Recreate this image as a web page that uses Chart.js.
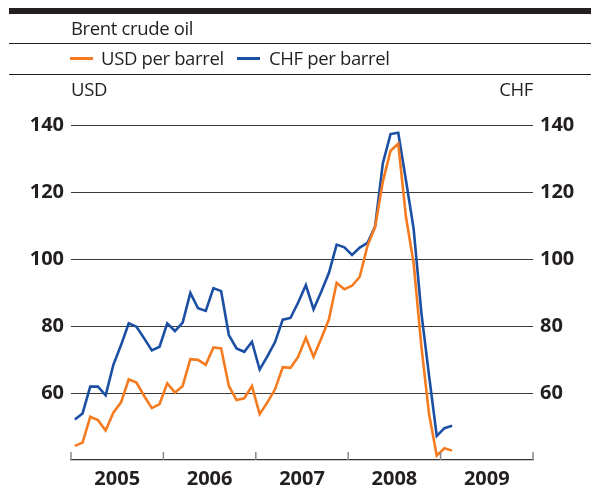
<!DOCTYPE html>
<html>
<head>
<meta charset="utf-8">
<script src="https://cdn.jsdelivr.net/npm/chart.js@4"></script>
<style>
html,body{margin:0;padding:0;background:#fff;}
#wrap{position:relative;width:591px;height:486px;overflow:hidden;font-family:"Open Sans",sans-serif;color:#231f20;}
#c{position:absolute;left:0;top:0;}
.t{position:absolute;white-space:nowrap;font-size:18.5px;line-height:1;letter-spacing:-0.35px;}
.bar{position:absolute;left:9px;right:0;top:8px;height:6px;background:#231f20;}
.rule{position:absolute;left:9px;right:0;height:1px;background:#231f20;}
.sw{position:absolute;height:3px;width:23px;top:57px;}
</style>
</head>
<body>
<div id="wrap">
  <canvas id="c" width="591" height="486"></canvas>
  <div class="bar"></div>
  <div class="t" style="left:71px;top:18.5px;">Brent crude oil</div>
  <div class="rule" style="top:43px;"></div>
  <div class="sw" style="left:70px;background:#f47b20;"></div>
  <div class="t" style="left:101px;top:48.5px;">USD per barrel</div>
  <div class="sw" style="left:237px;background:#1b4fa3;"></div>
  <div class="t" style="left:269px;top:48.5px;">CHF per barrel</div>
  <div class="rule" style="top:74px;"></div>
  <div class="t" style="left:71px;top:80px;">USD</div>
  <div class="t" style="right:58px;top:80px;">CHF</div>
</div>
<script>
// Monthly data, Jan 2005 – Feb 2009
const months = [
  '2005-01','2005-02','2005-03','2005-04','2005-05','2005-06','2005-07','2005-08','2005-09','2005-10','2005-11','2005-12',
  '2006-01','2006-02','2006-03','2006-04','2006-05','2006-06','2006-07','2006-08','2006-09','2006-10','2006-11','2006-12',
  '2007-01','2007-02','2007-03','2007-04','2007-05','2007-06','2007-07','2007-08','2007-09','2007-10','2007-11','2007-12',
  '2008-01','2008-02','2008-03','2008-04','2008-05','2008-06','2008-07','2008-08','2008-09','2008-10','2008-11','2008-12',
  '2009-01','2009-02'
];
const usdPerBarrel = [
  44.2, 45.2, 52.9, 51.9, 48.8, 54.1, 57.2, 64.1, 63.1, 59.1, 55.5, 56.7,
  62.9, 60.1, 62.1, 70.1, 69.9, 68.4, 73.6, 73.3, 62.1, 57.9, 58.4, 62.1,
  53.7, 57.2, 61.1, 67.7, 67.5, 70.8, 76.5, 70.8, 76.3, 82.0, 92.9, 91.0,
  92.0, 94.7, 103.9, 109.6, 123.1, 132.3, 134.4, 112.6, 98.7, 74.0, 53.7, 41.3,
  43.5, 42.8
];
const chfPerBarrel = [
  52.1, 53.9, 61.9, 61.9, 59.3, 68.4, 74.3, 80.8, 79.8, 76.3, 72.7, 73.8,
  80.8, 78.5, 81.0, 89.9, 85.3, 84.5, 91.3, 90.4, 77.3, 73.3, 72.3, 75.3,
  67.0, 70.9, 75.2, 81.9, 82.4, 87.0, 92.2, 85.0, 90.2, 95.9, 104.3, 103.5,
  101.2, 103.4, 104.8, 109.8, 128.6, 137.3, 137.7, 123.5, 109.0, 84.0, 65.2, 47.2,
  49.5, 50.2
];
const yearLabels = ['2005','2006','2007','2008','2009'];
const yTickValues = [60, 80, 100, 120, 140];
const yearBoundaries = [0, 12, 24, 36, 48, 60];

const toPoints = arr => arr.map((v, i) => ({x: i + 0.5, y: v}));

const numFont = {family: 'Open Sans', size: 20, weight: 'bold'};
const textColor = '#231f20';

const yearTickPlugin = {
  id: 'yearTicks',
  afterDraw(chart) {
    const {ctx, chartArea, scales} = chart;
    const x = scales.x;
    ctx.save();
    ctx.strokeStyle = '#8a8a8a';
    ctx.lineWidth = 1.5;
    yearBoundaries.forEach(v => {
      const px = x.getPixelForValue(v);
      ctx.beginPath();
      ctx.moveTo(px, chartArea.bottom - 8);
      ctx.lineTo(px, chartArea.bottom);
      ctx.stroke();
    });
    ctx.restore();
  }
};

new Chart(document.getElementById('c'), {
  type: 'line',
  data: {
    datasets: [
      {label: 'USD per barrel', data: toPoints(usdPerBarrel), borderColor: '#f47b20', borderWidth: 2.6, pointRadius: 0, tension: 0, yAxisID: 'y', fill: false},
      {label: 'CHF per barrel', data: toPoints(chfPerBarrel), borderColor: '#1b4fa3', borderWidth: 2.6, pointRadius: 0, tension: 0, yAxisID: 'y1', fill: false}
    ]
  },
  options: {
    responsive: false,
    devicePixelRatio: 1,
    animation: false,
    layout: {padding: {top: 125, left: 0, right: 0, bottom: 0}},
    plugins: {legend: {display: false}, tooltip: {enabled: false}},
    scales: {
      x: {
        type: 'linear', min: 0, max: 60, position: 'bottom',
        afterBuildTicks: s => { s.ticks = yearLabels.map((y, i) => ({value: 6 + 12 * i})); },
        ticks: {
          callback: v => yearLabels[Math.round((v - 6) / 12)],
          font: numFont, color: textColor, padding: 7, maxRotation: 0, autoSkip: false
        },
        grid: {drawOnChartArea: false, drawTicks: false, color: 'rgba(0,0,0,0)'},
        border: {display: true, color: '#333333', width: 1.3},
        afterFit: s => { s.height = 26; }
      },
      y: {
        position: 'left', min: 40, max: 140,
        afterBuildTicks: s => { s.ticks = yTickValues.map(v => ({value: v})); },
        ticks: {font: numFont, color: textColor, padding: 7},
        grid: {color: '#3a3a3a', lineWidth: 1, drawTicks: false},
        border: {display: false},
        afterFit: s => { s.width = 71; }
      },
      y1: {
        position: 'right', min: 40, max: 140,
        afterBuildTicks: s => { s.ticks = yTickValues.map(v => ({value: v})); },
        ticks: {font: numFont, color: textColor, padding: 7},
        grid: {display: false, drawTicks: false},
        border: {display: false},
        afterFit: s => { s.width = 58; }
      }
    }
  },
  plugins: [yearTickPlugin]
});
</script>
</body>
</html>
